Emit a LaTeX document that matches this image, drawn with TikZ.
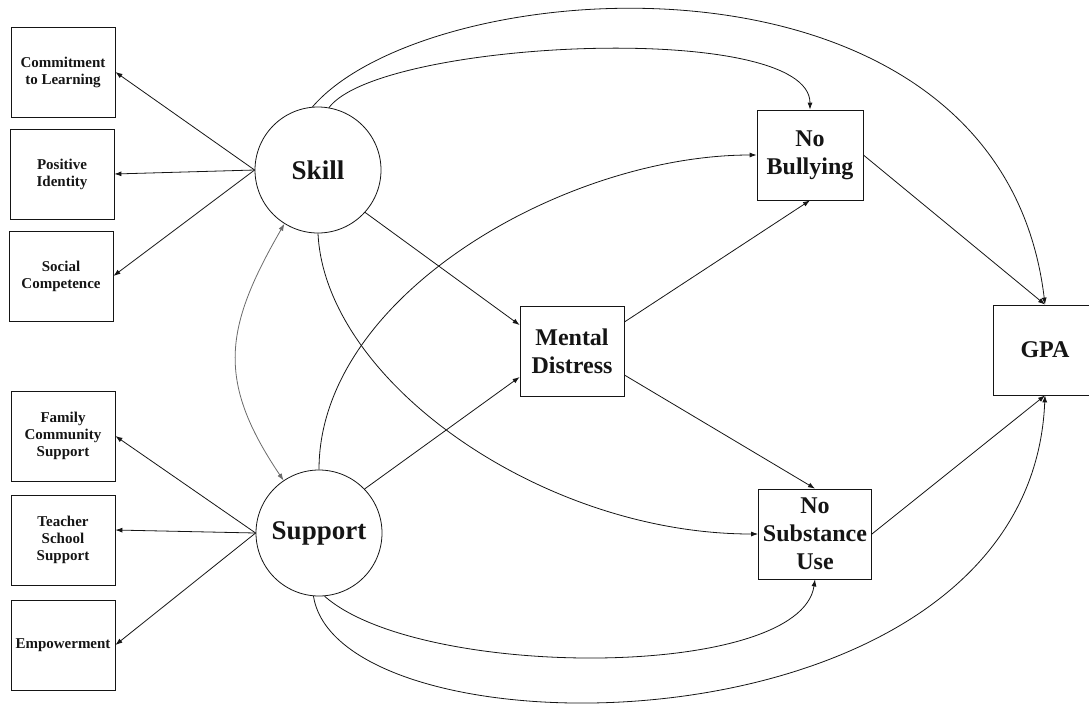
\documentclass[tikz,border=0pt]{standalone}
\usepackage{fontspec}
\setmainfont{Liberation Serif}
\usetikzlibrary{arrows.meta}
\definecolor{ink}{HTML}{151515}
\definecolor{corr}{HTML}{6A6A6A}

\begin{document}
\begin{tikzpicture}[x=1pt,y=-1pt,line width=0.8pt,ink,
  ind/.style={draw,minimum width=104pt,minimum height=90pt,inner sep=1pt,align=center,
    font=\fontsize{15}{17}\selectfont\bfseries},
  med/.style={draw,minimum width=104pt,minimum height=90pt,inner sep=2pt,align=center,
    font=\fontsize{24}{28}\selectfont\bfseries},
  lat/.style={draw,circle,minimum size=126pt,inner sep=0pt,font=\fontsize{27}{32}\selectfont\bfseries},
  arr/.style={-{Latex[length=7pt,width=5pt]}},
  dbl/.style={{Latex[length=7pt,width=5pt]}-{Latex[length=7pt,width=5pt]}}]
  \useasboundingbox (0,0) rectangle (1089,705);
  % latent factors
  \node[lat] (skill) at (318,170) {Skill};
  \node[lat] (support) at (319,533) {Support};
  % indicators
  \foreach \n/\x/\y/\t in {commit/63/72/{Commitment\\to Learning}, posid/62/174/{Positive\\Identity},
      social/61/276/{Social\\Competence}, family/63/436/{Family\\Community\\Support},
      teacher/63/540/{Teacher\\School\\Support}, empower/63/645/{Empowerment}}
    \node[ind] (\n) at (\x,\y) {\t};
  % mediators and outcome
  \node[med] (mental) at (572,351) {Mental\\Distress};
  \node[med,minimum width=106pt] (nobully) at (810,155) {No\\Bullying};
  \node[med,minimum width=113pt] (nosub) at (815,534) {No\\Substance\\Use};
  \node[med] (gpa) at (1045,350) {GPA};
  % loadings
  \foreach \n in {commit,posid,social}
    \draw[arr] (skill.west) -- (\n.east);
  \draw[arr] (support.west) -- (family.east);
  \draw[arr] (support.west) -- ([yshift=10pt]teacher.east);
  \draw[arr] (support.west) -- (empower.east);
  \draw[dbl,corr] (skill.238) to[out=240,in=124,looseness=1.2] (support.124);
  % paths
  \draw[arr] (skill.-42) -- ([yshift=26pt]mental.west);
  \draw[arr] (support.44) -- ([yshift=-26pt]mental.west);
  \draw[arr] ([yshift=29pt]mental.east) -- (nobully.south);
  \draw[arr] ([yshift=-24pt]mental.east) -- (nosub.north);
  \draw[arr] (nobully.east) -- (gpa.north);
  \draw[arr] (nosub.east) -- (gpa.south);
  \draw[arr] (support.north) .. controls +(0,-175) and +(-190,0) .. (nobully.west);
  \draw[arr] (skill.south) .. controls +(7,147) and +(-217,0) .. (nosub.west);
  % direct effects
  \draw[arr] (skill.95) .. controls +(118,-137) and +(-45,-376) .. (gpa.north);
  \draw[arr] (skill.80) .. controls +(51,-68) and +(0,-90) .. (nobully.north);
  \draw[arr] (support.-85) .. controls +(95,84) and +(-15,101) .. (nosub.south);
  \draw[arr] (support.-95) .. controls +(26,166) and +(-15,366) .. (gpa.south);
\end{tikzpicture}
\end{document}
